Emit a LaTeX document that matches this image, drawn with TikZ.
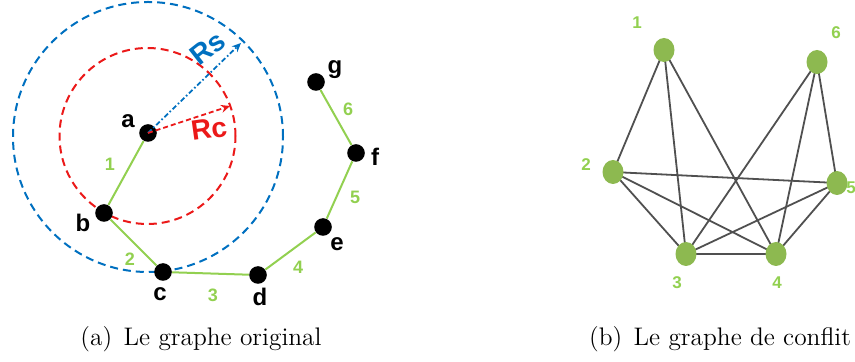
\documentclass[tikz,border=0pt]{standalone}
\usepackage{fontspec}
\newfontfamily\lab{Liberation Sans}
\usetikzlibrary{arrows.meta,shapes.geometric}
\definecolor{lgreen}{RGB}{146,208,80}
\definecolor{ngreen}{RGB}{141,185,80}
\definecolor{eblue}{RGB}{0,112,192}
\definecolor{ered}{RGB}{235,25,25}
\definecolor{egray}{RGB}{80,80,80}
\tikzset{
  dot/.style={circle, fill=black, minimum size=8.8pt, inner sep=0pt},
  gnode/.style={ellipse, fill=ngreen, minimum width=10.5pt, minimum height=12pt, inner sep=0pt},
  vlabel/.style={font=\lab\bfseries\fontsize{12}{14}\selectfont, text=black, inner sep=0pt},
  elabel/.style={font=\lab\bfseries\fontsize{9}{10}\selectfont, text=lgreen, inner sep=0pt},
  clabel/.style={font=\lab\bfseries\fontsize{8.5}{10}\selectfont, text=lgreen, inner sep=0pt},
  gedge/.style={draw=lgreen, line width=1pt},
  cedge/.style={draw=egray, line width=0.9pt},
  rangecircle/.style={line width=1pt, dash pattern=on 4pt off 2.5pt},
  captext/.style={font=\fontsize{12.7}{15}\selectfont, inner sep=0pt}
}
\begin{document}
\begin{tikzpicture}[x=0.5pt, y=-0.5pt]
\useasboundingbox (0,0) rectangle (855,362);
% range circles
\draw[rangecircle, draw=ered] (147.5,136) circle [radius=44pt];
\draw[rangecircle, draw=eblue] (148,137) circle [radius=67.5pt];
% nodes of original graph
\node[dot] (a) at (148,133) {};
\node[dot] (b) at (104,213) {};
\node[dot] (c) at (163,272) {};
\node[dot] (d) at (258,275) {};
\node[dot] (e) at (323,227) {};
\node[dot] (f) at (356,153) {};
\node[dot] (g) at (316,82) {};
% radius arrows
\coordinate (rsend) at (241,43);
\coordinate (rcend) at (230,106);
\draw[eblue, line width=0.9pt, dash pattern=on 2.5pt off 1.2pt on 0.8pt off 1.2pt, -{Stealth[length=4.5pt,width=4pt]}] (a.center) -- (rsend);
\draw[ered, line width=0.9pt, dash pattern=on 2.5pt off 1.5pt, -{Stealth[length=4.5pt,width=4pt]}] (a.center) -- (rcend);
\node[font=\lab\bfseries\fontsize{14}{16}\selectfont, text=eblue, rotate=38, inner sep=0pt] (rs) at (208,48) {Rs};
\node[font=\lab\bfseries\fontsize{14}{16}\selectfont, text=ered, rotate=8, inner sep=0pt] (rc) at (209,129) {Rc};
% edges
\draw[gedge] (a) -- (b);
\draw[gedge] (b) -- (c);
\draw[gedge] (c) -- (d);
\draw[gedge] (d) -- (e);
\draw[gedge] (e) -- (f);
\draw[gedge] (f) -- (g);
% vertex labels
\node[vlabel] (la) at (128,121) {a};
\node[vlabel] (lb) at (83,223) {b};
\node[vlabel] (lc) at (160,294) {c};
\node[vlabel] (ld) at (260,297) {d};
\node[vlabel] (le) at (337,244) {e};
\node[vlabel] (lf) at (375,157) {f};
\node[vlabel] (lg) at (335,70) {g};
% edge labels
\node[elabel] (l1) at (110,164) {1};
\node[elabel] (l2) at (130,259) {2};
\node[elabel] (l3) at (213,295) {3};
\node[elabel] (l4) at (298,267) {4};
\node[elabel] (l5) at (355,197) {5};
\node[elabel] (l6) at (348,109) {6};
% conflict graph edges (drawn first, nodes on top)
\coordinate (p1) at (664,50);
\coordinate (p6) at (817,62);
\coordinate (p2) at (613,172);
\coordinate (p5) at (837,183);
\coordinate (p3) at (686,254);
\coordinate (p4) at (776,254);
\draw[cedge] (p1) -- (p2);
\draw[cedge] (p1) -- (p3);
\draw[cedge] (p1) -- (p4);
\draw[cedge] (p2) -- (p5);
\draw[cedge] (p2) -- (p3);
\draw[cedge] (p2) -- (p4);
\draw[cedge] (p6) -- (p3);
\draw[cedge] (p6) -- (p4);
\draw[cedge] (p6) -- (p5);
\draw[cedge] (p5) -- (p3);
\draw[cedge] (p5) -- (p4);
\draw[cedge] (p3) -- (p4);
\node[gnode] (n1) at (p1) {};
\node[gnode] (n6) at (p6) {};
\node[gnode] (n2) at (p2) {};
\node[gnode] (n5) at (p5) {};
\node[gnode] (n3) at (p3) {};
\node[gnode] (n4) at (p4) {};
\node[clabel] (m1) at (637,23) {1};
\node[clabel] (m6) at (836,33) {6};
\node[clabel] (m2) at (586,165) {2};
\node[clabel] (m5) at (851,188) {5};
\node[clabel] (m3) at (677,283) {3};
\node[clabel] (m4) at (777,283) {4};
% captions
\node[captext] (capa) at (201,339) {(a)\hspace{0.45em}Le graphe original};
\node[captext] (capb) at (720,339) {(b)\hspace{0.45em}Le graphe de conflit};
\end{tikzpicture}
\end{document}
